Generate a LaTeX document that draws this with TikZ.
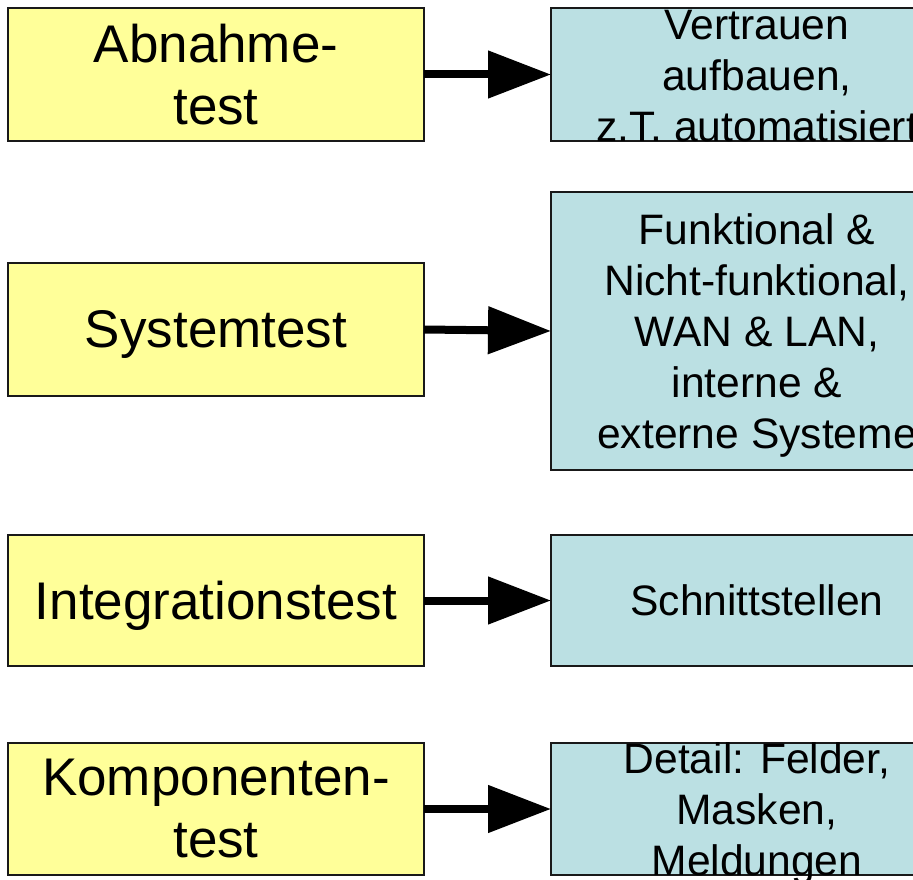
\documentclass[tikz,border=0pt]{standalone}
\usepackage{fontspec}
\setmainfont{Liberation Sans}
\usetikzlibrary{arrows.meta}
\definecolor{levelfill}{RGB}{255,255,153}
\definecolor{focusfill}{RGB}{187,224,227}
\definecolor{boxline}{RGB}{25,25,25}
\tikzset{
  levelbox/.style={draw=boxline, line width=1.8pt, fill=levelfill, rectangle,
    minimum width=416pt, inner sep=0pt, outer sep=0pt},
  focusbox/.style={draw=boxline, line width=1.8pt, fill=focusfill, rectangle,
    minimum width=416pt, inner sep=0pt, outer sep=0pt},
  leveltext/.style={align=center, inner sep=0pt, font=\fontsize{53}{62}\selectfont},
  focustext/.style={align=center, inner sep=0pt, xshift=-2pt, font=\fontsize{42.6}{51}\selectfont},
  linkarrow/.style={line width=8pt, -{Triangle[length=63pt,width=46pt]}, black}
}
\begin{document}
\begin{tikzpicture}[x=1pt,y=-1pt]
\useasboundingbox (0,0) rectangle (913,880);
\clip (0,0) rectangle (913,880);

% test levels (left column)
\node[levelbox, minimum height=133pt] (abn) at (216,74.5) {};
\node[levelbox, minimum height=133pt] (sys) at (216,329.5) {};
\node[levelbox, minimum height=131pt] (int) at (216,600.5) {};
\node[levelbox, minimum height=132pt] (kom) at (216,809) {};

% focus of each level (right column)
\node[focusbox, minimum height=133pt] (abnF) at (759,74.5) {};
\node[focusbox, minimum height=278pt] (sysF) at (759,331) {};
\node[focusbox, minimum height=131pt] (intF) at (759,600.5) {};
\node[focusbox, minimum height=132pt] (komF) at (759,809) {};

% labels
\node[leveltext] (abnT) at (abn) {Abnahme-\\test};
\node[leveltext, yshift=-5pt] (sysT) at (sys) {Systemtest};
\node[leveltext, yshift=-5pt] (intT) at (int) {Integrationstest};
\node[leveltext] (komT) at (kom) {Komponenten-\\test};

\node[focustext, yshift=-2pt] (abnFT) at (abnF) {Vertrauen\\aufbauen,\\z.T. automatisiert};
\node[focustext, yshift=-4pt] (sysFT) at (sysF) {Funktional \&\\Nicht-funktional,\\WAN \& LAN,\\interne \&\\externe Systeme};
\node[focustext] (intFT) at (intF) {Schnittstellen};
\node[focustext, yshift=-4pt] (komFT) at (komF) {Detail: Felder,\\Masken,\\Meldungen};

% connectors
\draw[linkarrow] (abn.east) -- (abnF.west);
\draw[linkarrow] (sys.east) -- (sysF.west);
\draw[linkarrow] (int.east) -- (intF.west);
\draw[linkarrow] (kom.east) -- (komF.west);
\end{tikzpicture}
\end{document}
